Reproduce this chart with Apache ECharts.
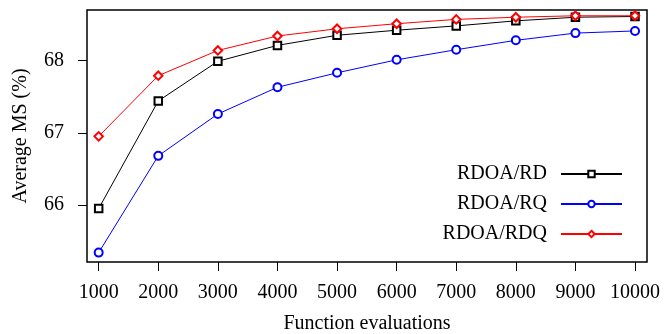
<!DOCTYPE html>
<html>
<head>
<meta charset="utf-8">
<script src="https://cdn.jsdelivr.net/npm/echarts@6/dist/echarts.min.js"></script>
<style>
  html, body { margin: 0; padding: 0; background: #fff; }
  #chart { width: 664px; height: 334px; }
</style>
</head>
<body>
<div id="chart"></div>
<script>
// function evaluations on the x axis
let evals = [1000, 2000, 3000, 4000, 5000, 6000, 7000, 8000, 9000, 10000]
let yTicks = [66, 67, 68]

// average MS (%)
let rdoaRD = [65.95, 67.44, 67.99, 68.21, 68.35, 68.42, 68.48, 68.55, 68.60, 68.61]
let rdoaRQ = [65.34, 66.68, 67.26, 67.63, 67.83, 68.01, 68.15, 68.28, 68.38, 68.41]
let rdoaRDQ = [66.95, 67.79, 68.14, 68.34, 68.44, 68.51, 68.57, 68.60, 68.62, 68.62]

let font = 'Liberation Serif'

function pairs(ys) {
    let out = []
    for (let i = 0; i < evals.length; i++) {
        out.push([evals[i], ys[i]])
    }
    return out
}

function makeSeries(name, ys, color, symbol, size) {
    return {
        name: name,
        type: 'line',
        data: pairs(ys),
        symbol: symbol,
        symbolSize: size,
        showSymbol: true,
        color: color,
        lineStyle: { color: color, width: 1 },
        itemStyle: { color: color, borderColor: color, borderWidth: 0.8 },
        emphasis: { disabled: true }
    }
}

let chart = echarts.init(document.querySelector('#chart'))
let option = {
    backgroundColor: '#fff',
    animation: false,
    textStyle: { fontFamily: font, color: '#000' },
    grid: {
        left: 87, top: 10, right: 17, bottom: 72,
        outerBoundsMode: 'none',
        containLabel: false,
        show: true,
        borderColor: '#000',
        borderWidth: 1.5
    },
    legend: {
        orient: 'vertical',
        right: 41,
        top: 164,
        padding: 0,
        align: 'right',
        itemWidth: 61,
        itemHeight: 8,
        itemGap: 10,
        itemStyle: { borderWidth: 0.8 },
        textStyle: { fontFamily: font, fontSize: 20, color: '#000', padding: [0, 9, 0, 0] },
        data: ['RDOA/RD', 'RDOA/RQ', 'RDOA/RDQ']
    },
    xAxis: {
        type: 'value',
        min: 804,
        max: 10201,
        name: 'Function evaluations',
        nameLocation: 'middle',
        nameGap: 52,
        nameTextStyle: { fontFamily: font, fontSize: 20, color: '#000' },
        splitLine: { show: false },
        axisLine: { show: false },
        axisTick: {
            show: true, length: 9, customValues: evals,
            lineStyle: { color: '#000', width: 1 }
        },
        axisLabel: {
            customValues: evals,
            margin: 21,
            formatter: function (v) { return String(v) },
            fontFamily: font, fontSize: 20, color: '#000'
        }
    },
    yAxis: {
        type: 'value',
        min: 65.21,
        max: 68.70,
        name: 'Average MS (%)',
        nameLocation: 'middle',
        nameGap: 56,
        nameTextStyle: { fontFamily: font, fontSize: 20, color: '#000' },
        splitLine: { show: false },
        axisLine: { show: false },
        axisTick: {
            show: true, length: 9, customValues: yTicks,
            lineStyle: { color: '#000', width: 1 }
        },
        axisLabel: {
            customValues: yTicks,
            margin: 23,
            formatter: function (v) { return String(v) },
            fontFamily: font, fontSize: 20, color: '#000'
        }
    },
    series: [
        makeSeries('RDOA/RD', rdoaRD, '#000', 'emptyRect', 7.5),
        makeSeries('RDOA/RQ', rdoaRQ, '#0000ff', 'emptyCircle', 8),
        makeSeries('RDOA/RDQ', rdoaRDQ, '#ff0000', 'emptyDiamond', 8.5)
    ]
}
chart.setOption(option)
window.onresize = function () {
    chart.resize()
}
</script>
</body>
</html>
